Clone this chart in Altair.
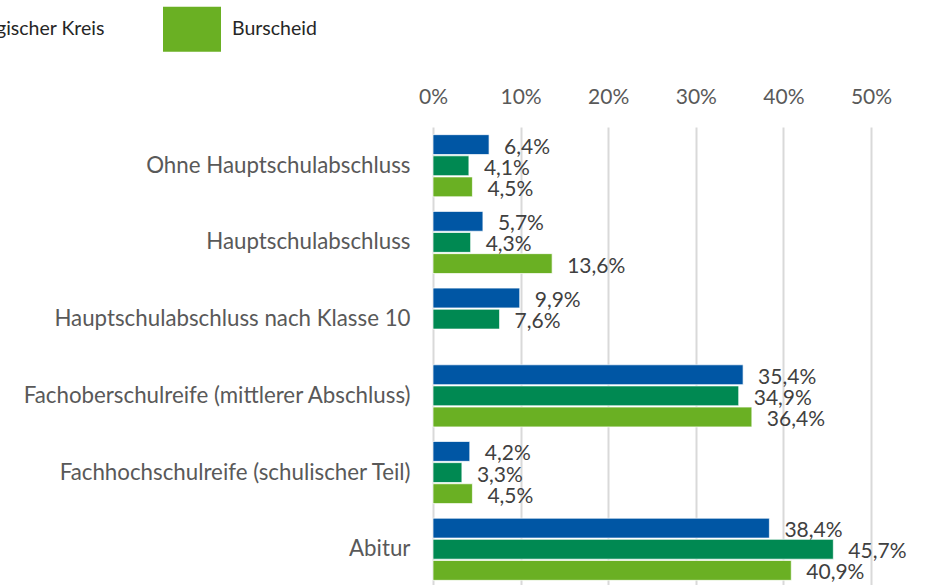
import altair as alt
import pandas as pd

categories = [
    "Ohne Hauptschulabschluss",
    "Hauptschulabschluss",
    "Hauptschulabschluss nach Klasse 10",
    "Fachoberschulreife (mittlerer Abschluss)",
    "Fachhochschulreife (schulischer Teil)",
    "Abitur",
]
series = ["NRW", "Rheinisch-Bergischer Kreis", "Burscheid"]
nrw = [6.4, 5.7, 9.9, 35.4, 4.2, 38.4]
rbk = [4.1, 4.3, 7.6, 34.9, 3.3, 45.7]
burscheid = [4.5, 13.6, None, 36.4, 4.5, 40.9]
colors = ["#0056A4", "#008952", "#6AB023"]
x_ticks = [0, 0.1, 0.2, 0.3, 0.4, 0.5]

rows = []
for s, vals in zip(series, [nrw, rbk, burscheid]):
    for c, v in zip(categories, vals):
        if v is None:
            continue
        rows.append({"Abschluss": c, "Gebiet": s, "Anteil": v / 100,
                     "Label": f"{v:.1f}%".replace(".", ",")})
df = pd.DataFrame(rows)

FONT = "Lato"
FS = 21

y = alt.Y("Abschluss:N", sort=categories,
          scale=alt.Scale(domain=categories, paddingInner=0.19, paddingOuter=0.1),
          axis=alt.Axis(title=None, ticks=False, domain=False, labelPadding=23,
                        labelFontSize=22.3, labelColor="#595959", labelFont=FONT,
                        labelLimit=600))
yoff = alt.YOffset("Gebiet:N", sort=series,
                   scale=alt.Scale(domain=series, paddingInner=0.06, paddingOuter=0))
x = alt.X("Anteil:Q", scale=alt.Scale(domain=[0, 0.5], nice=False),
          axis=alt.Axis(orient="top", values=x_ticks, format=".0%", title=None,
                        ticks=False, domain=False, grid=True, gridColor="#d9d9d9",
                        gridWidth=2, labelPadding=20, labelFontSize=FS,
                        labelFlush=False, labelOverlap=False,
                        labelColor="#595959", labelFont=FONT))
color = alt.Color("Gebiet:N", sort=series,
                  scale=alt.Scale(domain=series, range=colors),
                  legend=alt.Legend(orient="none", legendX=-800, legendY=-127,
                                    direction="horizontal", title=None,
                                    symbolType="M-1,-0.776L1,-0.776L1,0.776L-1,0.776Z",
                                    symbolSize=3364, symbolStrokeWidth=0,
                                    symbolOpacity=1,
                                    labelFontSize=19.5, labelFont=FONT,
                                    labelColor="#262626", labelOffset=11,
                                    columnPadding=58, labelLimit=600, padding=0))

bars = alt.Chart(df).mark_bar(stroke="white", strokeWidth=1, strokeOpacity=0.7).encode(
    x=x, y=y, yOffset=yoff, color=color)

labels = alt.Chart(df).mark_text(align="left", baseline="middle", dx=15, dy=3,
                                 fontSize=FS, font=FONT, color="#404040").encode(
    x="Anteil:Q", y=alt.Y("Abschluss:N", sort=categories), yOffset=yoff, text="Label:N")

chart = alt.layer(bars, labels).properties(
    width=438, height=461,
    autosize=alt.AutoSizeParams(type="none"),
    padding={"left": 433, "top": 127, "right": 55, "bottom": 0},
).configure_view(stroke=None)

chart.save("out.html", embed_options={"renderer": "svg", "actions": False})
